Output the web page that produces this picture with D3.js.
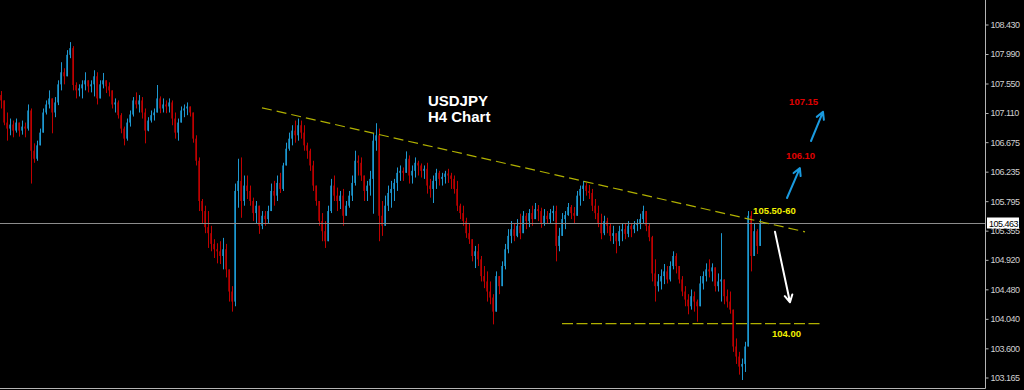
<!DOCTYPE html>
<html>
<head>
<meta charset="utf-8">
<script src="https://cdn.jsdelivr.net/npm/d3@7"></script>
<style>
  html, body { margin: 0; padding: 0; background: #000; overflow: hidden; }
</style>
</head>
<body>
<div id="wrapper"></div>
<script>
// USDJPY H4 candles (open = previous close)
const firstOpen = 107.37
const highs = [
  107.43,107.29,107.11,107.02,106.99,107.02,106.96,106.99,106.96,107.23,
  107.17,106.65,106.69,106.87,107.17,107.29,107.44,107.32,107.34,107.59,
  107.86,107.77,108.04,108.16,108.10,107.56,107.53,107.59,107.71,107.56,
  107.59,107.74,107.71,107.59,107.70,107.59,107.56,107.38,107.32,107.29,
  107.10,106.90,107.02,107.14,107.34,107.41,107.37,107.34,107.17,107.04,
  107.14,107.17,107.52,107.35,107.32,107.29,107.32,107.29,107.11,107.02,
  107.20,107.23,107.26,107.20,107.11,106.77,106.44,105.82,105.72,105.64,
  105.42,105.22,105.16,105.19,105.24,105.15,104.74,104.52,106.05,106.42,
  106.44,106.17,106.17,106.02,105.84,105.79,105.67,105.64,105.64,105.72,
  106.05,106.09,106.17,106.21,106.36,106.66,106.81,106.92,106.99,107.02,
  106.99,106.92,106.66,106.57,106.39,106.02,105.79,105.61,105.49,105.72,
  106.12,106.17,105.99,105.94,105.97,105.79,105.94,106.17,106.54,106.47,
  106.44,106.17,106.09,106.24,106.80,106.95,106.87,105.79,105.87,106.02,
  106.09,106.12,106.29,106.32,106.29,106.53,106.47,106.32,106.44,106.39,
  106.35,106.32,106.36,106.12,106.17,106.27,106.24,106.21,106.24,106.27,
  106.21,106.17,106.09,105.75,105.72,105.54,105.45,105.19,105.12,105.15,
  104.97,104.82,104.74,104.59,104.40,104.74,104.67,104.89,105.15,105.37,
  105.49,105.46,105.52,105.60,105.64,105.61,105.67,105.72,105.76,105.73,
  105.69,105.67,105.64,105.67,105.72,105.72,105.39,105.61,105.64,105.76,
  105.73,105.70,105.94,106.02,106.09,106.06,106.03,105.97,105.82,105.72,
  105.60,105.57,105.54,105.46,105.42,105.30,105.42,105.46,105.45,105.49,
  105.46,105.49,105.52,105.60,105.72,105.61,105.46,105.27,104.92,104.70,
  104.77,104.85,104.82,104.89,105.04,105.01,104.82,104.67,104.52,104.40,
  104.47,104.44,104.32,104.67,104.74,104.86,104.92,104.86,104.77,104.71,
  105.31,104.59,104.47,104.44,104.17,103.74,103.54,103.44,103.69,105.64,
  105.64,105.46,105.37,105.52,
]
const lows = [
  107.17,106.92,106.69,106.77,106.74,106.81,106.75,106.78,106.74,106.84,
  106.05,106.36,106.39,106.62,106.84,107.08,107.17,106.80,107.04,107.22,
  107.44,107.53,107.68,107.92,107.44,107.32,107.35,107.32,107.44,107.41,
  107.41,107.35,107.23,107.32,107.47,107.40,107.35,107.17,107.11,107.02,
  106.80,106.62,106.69,106.90,107.05,107.17,107.11,107.02,106.65,106.83,
  106.96,106.99,107.11,107.10,107.11,107.10,107.11,106.92,106.72,106.69,
  106.99,107.04,107.07,107.05,106.66,106.32,105.64,105.46,105.31,105.09,
  105.04,104.94,104.86,104.85,104.77,104.65,104.29,104.14,104.22,105.69,
  105.54,105.72,105.82,105.72,105.49,105.46,105.30,105.37,105.42,105.46,
  105.64,105.72,105.79,105.91,105.94,106.32,106.54,106.62,106.66,106.69,
  106.72,106.54,106.42,106.24,105.94,105.72,105.42,105.19,105.09,105.27,
  105.61,105.79,105.64,105.67,105.42,105.57,105.69,105.79,106.02,106.17,
  106.09,105.79,105.79,105.87,105.60,106.54,105.19,105.27,105.42,105.64,
  105.69,105.79,105.94,106.09,106.09,106.21,106.05,106.05,106.14,106.17,
  106.14,106.12,105.90,105.84,105.76,105.97,106.02,106.02,106.05,106.06,
  105.97,105.90,105.64,105.52,105.42,105.24,105.15,104.89,104.79,104.82,
  104.59,104.49,104.29,104.25,103.95,104.29,104.40,104.52,104.77,105.01,
  105.16,105.19,105.25,105.22,105.34,105.37,105.40,105.42,105.52,105.49,
  105.39,105.42,105.45,105.46,105.49,104.89,105.04,105.27,105.37,105.57,
  105.52,105.46,105.57,105.72,105.79,105.87,105.82,105.64,105.52,105.40,
  105.22,105.28,105.31,105.19,105.15,105.01,105.12,105.19,105.22,105.25,
  105.25,105.31,105.34,105.37,105.46,105.34,105.19,104.59,104.29,104.44,
  104.47,104.55,104.56,104.59,104.77,104.71,104.56,104.37,104.22,104.10,
  104.17,104.14,103.99,104.29,104.47,104.59,104.65,104.59,104.44,104.44,
  104.29,104.25,104.20,104.11,103.54,103.36,103.20,103.12,103.24,103.62,
  104.74,105.04,105.00,105.12,
]
const closes = [
  107.29,106.96,106.87,106.93,106.84,106.96,106.84,106.90,106.87,107.14,
  106.54,106.42,106.62,106.81,107.11,107.23,107.32,107.11,107.26,107.53,
  107.71,107.65,107.97,108.07,107.52,107.44,107.47,107.53,107.59,107.50,
  107.53,107.65,107.32,107.53,107.59,107.50,107.44,107.23,107.26,107.07,
  106.87,106.72,106.96,107.08,107.29,107.23,107.29,107.11,106.84,106.99,
  107.07,107.11,107.32,107.17,107.23,107.20,107.26,107.02,106.81,106.96,
  107.14,107.17,107.20,107.11,106.72,106.39,105.79,105.64,105.40,105.31,
  105.15,105.07,105.04,104.97,105.07,104.77,104.44,104.29,105.94,106.09,
  105.79,106.02,105.94,105.79,105.61,105.72,105.42,105.57,105.52,105.64,
  105.94,105.87,106.06,105.97,106.32,106.57,106.72,106.84,106.77,106.92,
  106.81,106.62,106.54,106.32,106.02,105.79,105.49,105.34,105.19,105.64,
  106.02,105.87,105.79,105.87,105.57,105.72,105.87,106.06,106.39,106.36,
  106.17,105.94,106.02,106.12,106.69,106.77,105.57,105.42,105.72,105.91,
  105.97,106.06,106.21,106.24,106.21,106.42,106.17,106.24,106.36,106.32,
  106.24,106.27,106.02,105.97,106.09,106.21,106.12,106.15,106.20,106.17,
  106.12,105.97,105.72,105.61,105.49,105.31,105.22,104.97,105.04,104.92,
  104.67,104.59,104.44,104.35,104.14,104.67,104.52,104.82,105.07,105.27,
  105.37,105.27,105.42,105.31,105.57,105.49,105.61,105.52,105.67,105.64,
  105.46,105.57,105.52,105.61,105.64,105.12,105.27,105.52,105.58,105.70,
  105.61,105.57,105.87,105.97,106.02,105.94,105.91,105.72,105.61,105.46,
  105.31,105.49,105.42,105.27,105.31,105.19,105.34,105.37,105.30,105.42,
  105.37,105.43,105.46,105.52,105.64,105.42,105.25,104.71,104.52,104.59,
  104.67,104.74,104.62,104.82,104.97,104.82,104.62,104.44,104.32,104.22,
  104.37,104.29,104.22,104.56,104.67,104.77,104.74,104.80,104.52,104.59,
  104.62,104.37,104.29,104.17,103.62,103.47,103.32,103.36,103.62,105.57,
  104.97,105.34,105.12,105.46,
]

const priceTicks = [108.43, 107.99, 107.55, 107.11, 106.675, 106.235, 105.795,
  105.355, 104.92, 104.48, 104.04, 103.6, 103.165]
const lastPrice = 105.463

// drawn annotations, in (bar index, price)
const trendLine = [{ i: 87, p: 107.18 }, { i: 268, p: 105.33 }]
const supportLine = [{ i: 187, p: 103.96 }, { i: 273, p: 103.96 }]
const arrows = [
  { from: { i: 262, p: 105.835 }, to: { i: 266.3, p: 106.28 }, color: '#1a9be0' },
  { from: { i: 270, p: 106.685 }, to: { i: 274, p: 107.12 }, color: '#1a9be0' },
  { from: { i: 258, p: 105.33 }, to: { i: 263, p: 104.28 }, color: '#ffffff' },
]
const notes = [
  { text: 'USDJPY', i: 142.3, p: 107.21, color: '#ffffff', size: 15 },
  { text: 'H4 Chart', i: 142.3, p: 106.97, color: '#ffffff', size: 15 },
  { text: '105.50-60', i: 250.7, p: 105.6, color: '#f0f000', size: 9.5 },
  { text: '104.00', i: 257, p: 103.76, color: '#f0f000', size: 9.5 },
  { text: '106.10', i: 261.7, p: 106.42, color: '#e00000', size: 9.5 },
  { text: '107.15', i: 262.7, p: 107.22, color: '#e00000', size: 9.5 },
]

function draw() {
  const dimensions = {
    width: 1024,
    height: 390,
    axisX: 985,
    bottom: 388,
  }

  const candles = closes.map((c, i) => ({
    i: i,
    open: i === 0 ? firstOpen : closes[i - 1],
    close: c,
    high: highs[i],
    low: lows[i],
  }))

  const svg = d3
    .select('#wrapper')
    .append('svg')
    .attr('width', dimensions.width)
    .attr('height', dimensions.height)
    .style('display', 'block')
    .style('background', '#000')

  // scales
  const xScale = d3.scaleLinear().domain([0, closes.length - 1]).range([1, 760])
  const yScale = d3.scaleLinear().domain([103.165, 108.43]).range([377, 24])

  // candles
  const bars = svg.append('g').attr('class', 'candles')
  const isUp = (d) => d.close >= d.open

  bars
    .selectAll('rect')
    .data(candles)
    .enter()
    .append('rect')
    .attr('x', (d) => Math.round(xScale(d.i)) - 1)
    .attr('y', (d) => yScale(Math.max(d.open, d.close)))
    .attr('width', 2)
    .attr('height', (d) =>
      Math.max(1, yScale(Math.min(d.open, d.close)) - yScale(Math.max(d.open, d.close))),
    )
    .attr('fill', (d) => (isUp(d) ? '#12719c' : '#8a0000'))

  bars
    .selectAll('line')
    .data(candles)
    .enter()
    .append('line')
    .attr('x1', (d) => Math.round(xScale(d.i)) + 0.5)
    .attr('x2', (d) => Math.round(xScale(d.i)) + 0.5)
    .attr('y1', (d) => yScale(Math.max(d.high, d.open, d.close)))
    .attr('y2', (d) => yScale(Math.min(d.low, d.open, d.close)))
    .attr('stroke', (d) => (isUp(d) ? '#1e98d0' : '#c00000'))
    .attr('stroke-width', 1)

  // current price line
  const lastY = Math.round(yScale(lastPrice)) + 0.5
  svg
    .append('line')
    .attr('x1', 0)
    .attr('x2', dimensions.axisX)
    .attr('y1', lastY)
    .attr('y2', lastY)
    .attr('stroke', '#8c8c8c')
    .attr('stroke-width', 1)

  // trend and support lines
  const line = d3
    .line()
    .x((d) => xScale(d.i))
    .y((d) => yScale(d.p))
  svg
    .append('path')
    .attr('d', line(trendLine))
    .attr('fill', 'none')
    .attr('stroke', '#b0b000')
    .attr('stroke-width', 1.2)
    .attr('stroke-dasharray', '10,5')
  svg
    .append('path')
    .attr('d', line(supportLine))
    .attr('fill', 'none')
    .attr('stroke', '#b0b000')
    .attr('stroke-width', 1.2)
    .attr('stroke-dasharray', '11,3.5')

  // arrows
  arrows.forEach((a) => {
    const x1 = xScale(a.from.i)
    const y1 = yScale(a.from.p)
    const x2 = xScale(a.to.i)
    const y2 = yScale(a.to.p)
    const ang = Math.atan2(y2 - y1, x2 - x1)
    const len = 8
    const h1 = [x2 - len * Math.cos(ang - 0.5), y2 - len * Math.sin(ang - 0.5)]
    const h2 = [x2 - len * Math.cos(ang + 0.5), y2 - len * Math.sin(ang + 0.5)]
    svg
      .append('path')
      .attr('d', `M${x1},${y1}L${x2},${y2}M${h1[0]},${h1[1]}L${x2},${y2}L${h2[0]},${h2[1]}`)
      .attr('fill', 'none')
      .attr('stroke', a.color)
      .attr('stroke-width', 2)
      .attr('stroke-linecap', 'round')
      .attr('stroke-linejoin', 'round')
  })

  // text notes
  svg
    .append('g')
    .selectAll('text')
    .data(notes)
    .enter()
    .append('text')
    .attr('x', (d) => xScale(d.i))
    .attr('y', (d) => yScale(d.p))
    .attr('fill', (d) => d.color)
    .style('font-family', '"Liberation Sans", Arial, sans-serif')
    .style('font-weight', 'bold')
    .style('font-size', (d) => d.size + 'px')
    .text((d) => d.text)

  // frame
  svg
    .append('path')
    .attr('d', `M${dimensions.axisX + 0.5},0V${dimensions.bottom + 0.5}H0`)
    .attr('fill', 'none')
    .attr('stroke', '#b4b4b4')
    .attr('stroke-width', 1)

  // price axis
  const yAxisGenerator = d3
    .axisRight(yScale)
    .tickValues(priceTicks)
    .tickFormat(d3.format('.3f'))
    .tickSize(3)
    .tickPadding(2)
  const yAxis = svg
    .append('g')
    .attr('transform', `translate(${dimensions.axisX + 0.5}, 0.5)`)
    .call(yAxisGenerator)
  yAxis.select('.domain').remove()
  yAxis.selectAll('line').attr('stroke', '#b4b4b4')
  yAxis
    .selectAll('text')
    .attr('fill', '#d0d0d0')
    .style('font-family', '"Liberation Sans", Arial, sans-serif')
    .style('font-size', '9px')
    .style('letter-spacing', '-0.5px')

  // current price marker (sits over the 105.355 label, as in the terminal)
  const marker = svg.append('g').attr('transform', `translate(${dimensions.axisX + 2}, ${lastY})`)
  marker
    .append('rect')
    .attr('x', 0)
    .attr('y', -6)
    .attr('width', 32)
    .attr('height', 11)
    .attr('fill', '#ffffff')
  marker
    .append('text')
    .attr('x', 2)
    .attr('y', 3)
    .attr('fill', '#000')
    .style('font-family', '"Liberation Sans", Arial, sans-serif')
    .style('font-size', '9px')
    .style('letter-spacing', '-0.5px')
    .text(d3.format('.3f')(lastPrice))
}
draw()
</script>
</body>
</html>
